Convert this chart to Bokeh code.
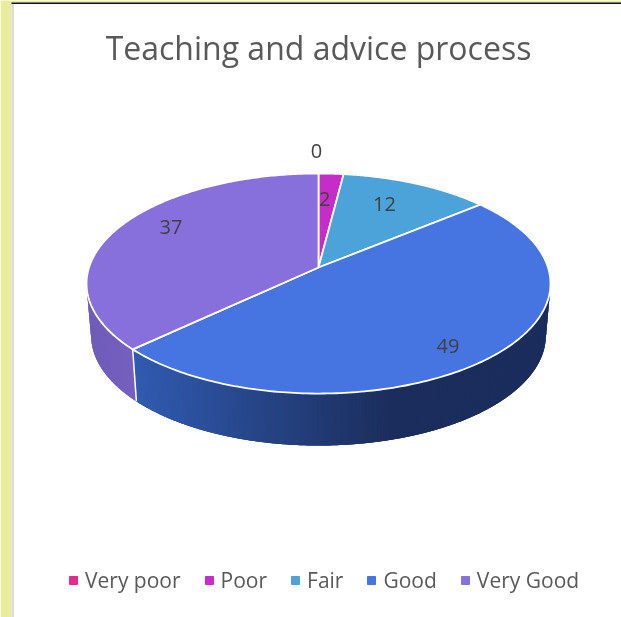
import numpy as np
from bokeh.embed import file_html
from bokeh.resources import INLINE
from bokeh.plotting import figure
from bokeh.models import Legend, LegendItem, ColumnDataSource
from bokeh.core.properties import value

categories = ["Very poor", "Poor", "Fair", "Good", "Very Good"]
values = [0, 2, 12, 49, 37]
colors = ["#E7298A", "#C62CC8", "#4CA3DA", "#4674E1", "#8870DC"]
title_text = "Teaching and advice process"

W, H = 621, 617
CX, CY = 318, 267      # apex of the pie on the picture
A, B, K = 107.7, 229.5, 0.1455
DEPTH = 52
SHRINK = 0.98          # the lower rim is a little narrower

def project(t, r=1.0):
    u, v = r * np.sin(t), r * np.cos(t)
    d = 1 + K * v
    return CX + B * u / d, CY - A * v / d

def lower(x, y):
    return CX + (x - CX) * SHRINK, y + DEPTH

def mix(c0, c1, f):
    return "#%02x%02x%02x" % tuple(int(round(a + (b - a) * f)) for a, b in zip(c0, c1))

def side_color(i, x):
    if i == 3:
        f = float(np.clip((x - 133) / (400 - 133), 0, 1))
        return mix((49, 92, 178), (27, 45, 92), f)
    return mix((112, 92, 186), (118, 96, 192), float(np.clip((x - 87) / 46, 0, 1)))

p = figure(width=W, height=H, x_range=(0, W), y_range=(H, 0), output_backend="svg",
           toolbar_location=None, min_border=0, outline_line_color=None,
           background_fill_color="white", border_fill_color="white")
p.styles = {"position": "fixed", "left": "0px", "top": "0px"}
p.axis.visible = False
p.grid.visible = False

# page decoration of the source picture
p.quad(left=[0], right=[11], top=[0], bottom=[H], fill_color="#E8EC9C", line_color=None)
p.quad(left=[11], right=[13.5], top=[3], bottom=[H], fill_color="#DCDCDC", line_color=None)
p.quad(left=[0], right=[W], top=[0], bottom=[2], fill_color="#E8EC9C", line_color=None)
p.quad(left=[11], right=[W], top=[2], bottom=[3.5], fill_color="#111111", line_color=None)

total = sum(values)
cum = np.concatenate([[0], np.cumsum(values)]) / total * 2 * np.pi
limit = np.arccos(-K)

# side wall: overlapping strips painted over one another so that no seams show
xs, ys, cs = [], [], []
for i in (3, 4):
    lo = max(cum[i], limit)
    hi = min(cum[i + 1], 2 * np.pi - limit)
    n = max(2, int((hi - lo) / 0.012))
    edges = np.linspace(lo, hi, n)
    step = (hi - lo) / (n - 1)
    if i == 3:
        pairs = [(s, min(s + 3 * step, hi)) for s in edges[:-1][::-1]]
    else:
        pairs = [(max(e - 3 * step, lo), e) for e in edges[1:]]
    for a, b in pairs:
        x, y = project(np.linspace(a, b, 5))
        xb, yb = lower(x, y)
        xs.append(np.concatenate([x, xb[::-1]]))
        ys.append(np.concatenate([y, yb[::-1]]))
        cs.append(side_color(i, float(project(a if i == 3 else b)[0])))
p.patches(xs, ys, fill_color=cs, line_color=None)

# white seam on the wall between the two visible wedges
sx, sy = project(cum[4])
ex, ey = lower(sx, sy)
p.segment([sx], [sy], [ex], [ey], line_color="white", line_width=1.5)

# top faces
fx, fy, fc = [], [], []
for i in range(len(values)):
    if values[i] == 0:
        continue
    x, y = project(np.linspace(cum[i], cum[i + 1], 200))
    fx.append(np.concatenate([[CX], x]))
    fy.append(np.concatenate([[CY], y]))
    fc.append(colors[i])
p.patches(fx, fy, fill_color=fc, line_color="white", line_width=1.8, line_join="miter")

# data labels
mid = (cum[:-1] + cum[1:]) / 2
label_r = [1.28, 0.70, 0.646, 0.78, 0.73]
label_dx = [-2, -3, 0, 0, 0]
label_dy = [0, 0, -7, 10, -11]
lx, ly = project(mid, np.array(label_r))
src = ColumnDataSource(dict(x=lx + np.array(label_dx), y=ly + np.array(label_dy),
                            t=[str(v) for v in values]))
p.text("x", "y", text="t", source=src, text_align="center", text_baseline="middle",
       text_font=value("Open Sans"), text_font_size="20px", text_color="#404040")

# title
p.text([318], [46.5], text=[title_text], text_align="center", text_baseline="middle",
       text_font=value("Open Sans"), text_font_size="32px", text_color="#595959")

# legend
items = []
for c, n in zip(colors, categories):
    r = p.scatter([np.nan], [np.nan], marker="square", fill_color=c, line_color=c)
    items.append(LegendItem(label=n, renderers=[r]))
leg = Legend(items=items, orientation="horizontal", location=(63, 23), glyph_width=20, glyph_height=20,
             label_standoff=2, spacing=18, padding=0, margin=0, border_line_color=None,
             background_fill_alpha=0, label_text_font="Open Sans", label_text_font_size="21px",
             label_text_color="#595959")
p.add_layout(leg, "center")

open("out.html", "w").write(file_html(p, INLINE))
